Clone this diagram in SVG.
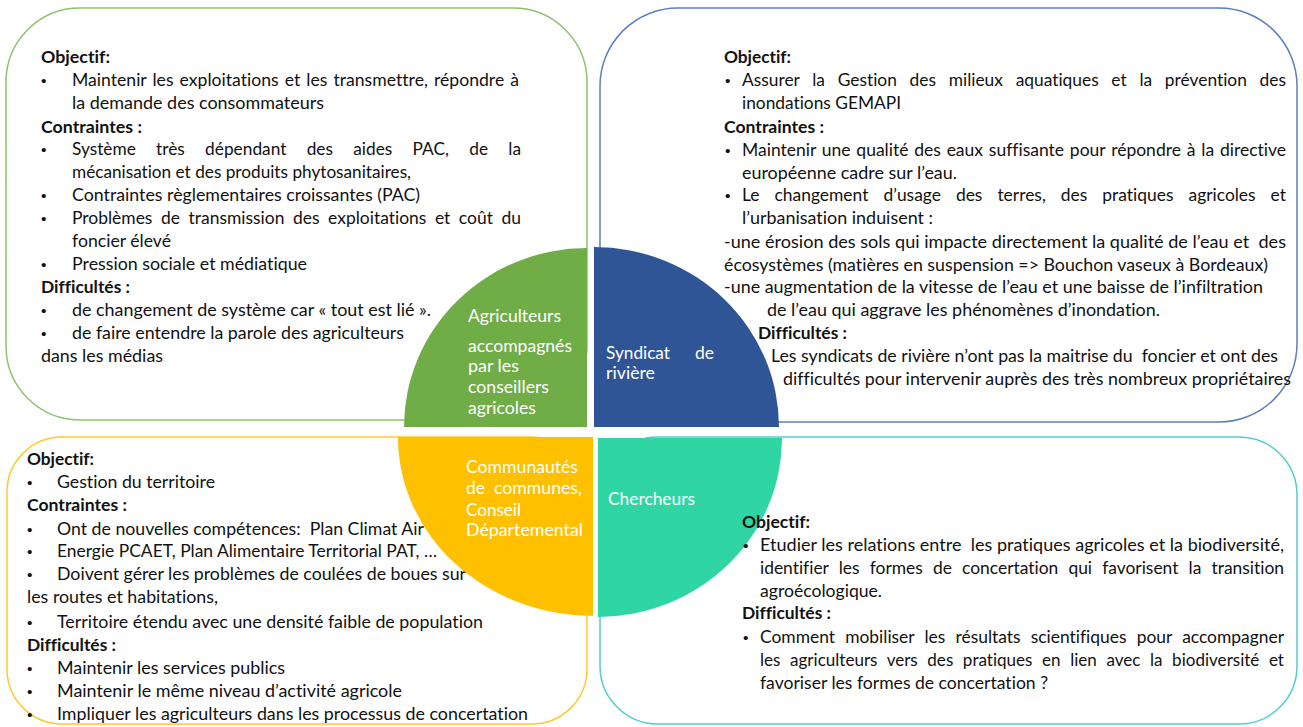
<svg xmlns="http://www.w3.org/2000/svg" width="1303" height="727" viewBox="0 0 1303 727">
<style>
.t{font-family:Lato,'Liberation Sans',sans-serif;font-size:17px;fill:#111;white-space:pre;font-variant-ligatures:none;font-feature-settings:"liga" 0}
.b{font-weight:bold}
.w{fill:#fff}
.d{font-family:'Liberation Sans',sans-serif;font-size:15.5px;fill:#111}
.box{fill:none;stroke-width:1.5}
</style>
<rect width="1303" height="727" fill="#fff"/>
<g id="box-agriculteurs">
<rect class="box" x="6" y="8" width="581" height="412" rx="74" stroke="#8EC26E"/>
<g>
<text class="t b" x="41" y="63" textLength="69" lengthAdjust="spacingAndGlyphs">Objectif:</text>
<text class="d" x="41" y="86">•</text>
<text class="t" x="72" y="86" textLength="447" lengthAdjust="spacingAndGlyphs" word-spacing="1.5">Maintenir les exploitations et les transmettre, répondre à</text>
<text class="t" x="72" y="109" textLength="252" lengthAdjust="spacingAndGlyphs">la demande des consommateurs</text>
<text class="t b" x="41" y="133" textLength="101" lengthAdjust="spacingAndGlyphs">Contraintes :</text>
<text class="d" x="41" y="155">•</text>
<text class="t" x="72" y="155" textLength="449" lengthAdjust="spacingAndGlyphs" word-spacing="15.6">Système très dépendant des aides PAC, de la</text>
<text class="t" x="72" y="178" textLength="339" lengthAdjust="spacingAndGlyphs">mécanisation et des produits phytosanitaires,</text>
<text class="d" x="41" y="201">•</text>
<text class="t" x="72" y="201" textLength="348" lengthAdjust="spacingAndGlyphs">Contraintes règlementaires croissantes (PAC)</text>
<text class="d" x="41" y="224">•</text>
<text class="t" x="72" y="224" textLength="449" lengthAdjust="spacingAndGlyphs" word-spacing="4">Problèmes de transmission des exploitations et coût du</text>
<text class="t" x="72" y="247" textLength="99" lengthAdjust="spacingAndGlyphs">foncier élevé</text>
<text class="d" x="41" y="270">•</text>
<text class="t" x="72" y="270" textLength="235" lengthAdjust="spacingAndGlyphs">Pression sociale et médiatique</text>
<text class="t b" x="41" y="293" textLength="89" lengthAdjust="spacingAndGlyphs">Difficultés :</text>
<text class="d" x="41" y="316">•</text>
<text class="t" x="72" y="316" textLength="359" lengthAdjust="spacingAndGlyphs">de changement de système car « tout est lié ».</text>
<text class="d" x="41" y="339">•</text>
<text class="t" x="72" y="339" textLength="332" lengthAdjust="spacingAndGlyphs">de faire entendre la parole des agriculteurs</text>
<text class="t" x="41" y="362" textLength="122" lengthAdjust="spacingAndGlyphs">dans les médias</text>
</g>
</g>
<g id="box-syndicat">
<rect class="box" x="600" y="8" width="697" height="414" rx="78" stroke="#5A80BE"/>
<g>
<text class="t b" x="724" y="63" textLength="67" lengthAdjust="spacingAndGlyphs">Objectif:</text>
<text class="d" x="725" y="86">•</text>
<text class="t" x="742" y="86" textLength="544" lengthAdjust="spacingAndGlyphs" word-spacing="8.1">Assurer la Gestion des milieux aquatiques et la prévention des</text>
<text class="t" x="742" y="109" textLength="159" lengthAdjust="spacingAndGlyphs">inondations GEMAPI</text>
<text class="t b" x="724" y="133" textLength="100" lengthAdjust="spacingAndGlyphs">Contraintes :</text>
<text class="d" x="725" y="156">•</text>
<text class="t" x="742" y="156" textLength="544" lengthAdjust="spacingAndGlyphs" word-spacing="1.3">Maintenir une qualité des eaux suffisante pour répondre à la directive</text>
<text class="t" x="742" y="179" textLength="215" lengthAdjust="spacingAndGlyphs">européenne cadre sur l’eau.</text>
<text class="d" x="725" y="201">•</text>
<text class="t" x="742" y="201" textLength="544" lengthAdjust="spacingAndGlyphs" word-spacing="10.3">Le changement d’usage des terres, des pratiques agricoles et</text>
<text class="t" x="742" y="224" textLength="191" lengthAdjust="spacingAndGlyphs">l’urbanisation induisent :</text>
<text class="t" x="724" y="248" textLength="562" lengthAdjust="spacingAndGlyphs">-une érosion des sols qui impacte directement la qualité de l’eau et  des</text>
<text class="t" x="724" y="271" textLength="544" lengthAdjust="spacingAndGlyphs">écosystèmes (matières en suspension =&gt; Bouchon vaseux à Bordeaux)</text>
<text class="t" x="724" y="293" textLength="539" lengthAdjust="spacingAndGlyphs">-une augmentation de la vitesse de l’eau et une baisse de l’infiltration</text>
<text class="t" x="767" y="316" textLength="393" lengthAdjust="spacingAndGlyphs">de l’eau qui aggrave les phénomènes d’inondation.</text>
<text class="t b" x="758" y="339" textLength="89" lengthAdjust="spacingAndGlyphs">Difficultés :</text>
<text class="t" x="771" y="362" textLength="507" lengthAdjust="spacingAndGlyphs">Les syndicats de rivière n’ont pas la maitrise du  foncier et ont des</text>
<text class="t" x="783" y="385" textLength="508" lengthAdjust="spacingAndGlyphs">difficultés pour intervenir auprès des très nombreux propriétaires</text>
</g>
</g>
<g id="box-communautes">
<rect class="box" x="7" y="437" width="580" height="287" rx="55" stroke="#FFC92E"/>
<g>
<text class="t b" x="27" y="465" textLength="67" lengthAdjust="spacingAndGlyphs">Objectif:</text>
<text class="d" x="27" y="488">•</text>
<text class="t" x="57" y="488" textLength="158" lengthAdjust="spacingAndGlyphs">Gestion du territoire</text>
<text class="t b" x="27" y="511" textLength="100" lengthAdjust="spacingAndGlyphs">Contraintes :</text>
<text class="d" x="27" y="535">•</text>
<text class="t" x="57" y="535" textLength="367" lengthAdjust="spacingAndGlyphs">Ont de nouvelles compétences:  Plan Climat Air</text>
<text class="d" x="27" y="557">•</text>
<text class="t" x="57" y="557" textLength="380" lengthAdjust="spacingAndGlyphs">Energie PCAET, Plan Alimentaire Territorial PAT, …</text>
<text class="d" x="27" y="580">•</text>
<text class="t" x="57" y="580" textLength="409" lengthAdjust="spacingAndGlyphs">Doivent gérer les problèmes de coulées de boues sur</text>
<text class="t" x="27" y="603" textLength="191" lengthAdjust="spacingAndGlyphs">les routes et habitations,</text>
<text class="d" x="27" y="628">•</text>
<text class="t" x="57" y="628" textLength="426" lengthAdjust="spacingAndGlyphs">Territoire étendu avec une densité faible de population</text>
<text class="t b" x="27" y="651" textLength="89" lengthAdjust="spacingAndGlyphs">Difficultés :</text>
<text class="d" x="27" y="674">•</text>
<text class="t" x="57" y="674" textLength="228" lengthAdjust="spacingAndGlyphs">Maintenir les services publics</text>
<text class="d" x="27" y="697">•</text>
<text class="t" x="57" y="697" textLength="345" lengthAdjust="spacingAndGlyphs">Maintenir le même niveau d’activité agricole</text>
<text class="d" x="27" y="720">•</text>
<text class="t" x="57" y="720" textLength="471" lengthAdjust="spacingAndGlyphs">Impliquer les agriculteurs dans les processus de concertation</text>
</g>
</g>
<g id="box-chercheurs">
<rect class="box" x="600" y="437" width="697" height="287" rx="58" stroke="#52CCD4"/>
</g>
<g id="node-agriculteurs">
<path d="M587,427 L587,248 A183,179 0 0 0 404,427 Z" fill="#70AD47"/>
<text class="t w" x="468" y="322" textLength="93" lengthAdjust="spacingAndGlyphs">Agriculteurs</text>
<text class="t w" x="468" y="352" textLength="104" lengthAdjust="spacingAndGlyphs">accompagnés</text>
<text class="t w" x="468" y="372" textLength="51" lengthAdjust="spacingAndGlyphs">par les</text>
<text class="t w" x="468" y="393" textLength="81" lengthAdjust="spacingAndGlyphs">conseillers</text>
<text class="t w" x="468" y="414" textLength="68" lengthAdjust="spacingAndGlyphs">agricoles</text>
</g>
<g id="node-syndicat">
<path d="M594,427 L594,247 A185,180 0 0 1 779,427 Z" fill="#2F5597"/>
<text class="t w" x="606" y="359" textLength="64" lengthAdjust="spacingAndGlyphs">Syndicat</text>
<text class="t w" x="695" y="359" textLength="19" lengthAdjust="spacingAndGlyphs">de</text>
<text class="t w" x="606" y="379" textLength="49" lengthAdjust="spacingAndGlyphs">rivière</text>
</g>
<g id="node-communautes">
<path d="M593,437 L398,437 A195,179 0 0 0 593,616 Z" fill="#FFC000"/>
<text class="t w" x="466" y="473" textLength="112" lengthAdjust="spacingAndGlyphs">Communautés</text>
<text class="t w" x="466" y="494" textLength="19" lengthAdjust="spacingAndGlyphs">de</text>
<text class="t w" x="494" y="494" textLength="88" lengthAdjust="spacingAndGlyphs">communes,</text>
<text class="t w" x="466" y="516" textLength="55" lengthAdjust="spacingAndGlyphs">Conseil</text>
<text class="t w" x="466" y="536" textLength="117" lengthAdjust="spacingAndGlyphs">Départemental</text>
</g>
<g id="node-chercheurs">
<path d="M598,438 L782,438 A184,179 0 0 1 598,617 Z" fill="#2FD6A3"/>
<text class="t w" x="608" y="505" textLength="87" lengthAdjust="spacingAndGlyphs">Chercheurs</text>
</g>
<g id="text-chercheurs">
<text class="t b" x="742" y="528" textLength="68" lengthAdjust="spacingAndGlyphs">Objectif:</text>
<text class="d" x="743" y="551">•</text>
<text class="t" x="760" y="551" textLength="524" lengthAdjust="spacingAndGlyphs">Etudier les relations entre  les pratiques agricoles et la biodiversité,</text>
<text class="t" x="760" y="574" textLength="524" lengthAdjust="spacingAndGlyphs" word-spacing="5.6">identifier les formes de concertation qui favorisent la transition</text>
<text class="t" x="760" y="597" textLength="122" lengthAdjust="spacingAndGlyphs">agroécologique.</text>
<text class="t b" x="742" y="619" textLength="89" lengthAdjust="spacingAndGlyphs">Difficultés :</text>
<text class="d" x="743" y="643">•</text>
<text class="t" x="760" y="643" textLength="524" lengthAdjust="spacingAndGlyphs" word-spacing="5.6">Comment mobiliser les résultats scientifiques pour accompagner</text>
<text class="t" x="760" y="666" textLength="524" lengthAdjust="spacingAndGlyphs" word-spacing="5.2">les agriculteurs vers des pratiques en lien avec la biodiversité et</text>
<text class="t" x="760" y="689" textLength="288" lengthAdjust="spacingAndGlyphs">favoriser les formes de concertation ?</text>
</g>
</svg>
